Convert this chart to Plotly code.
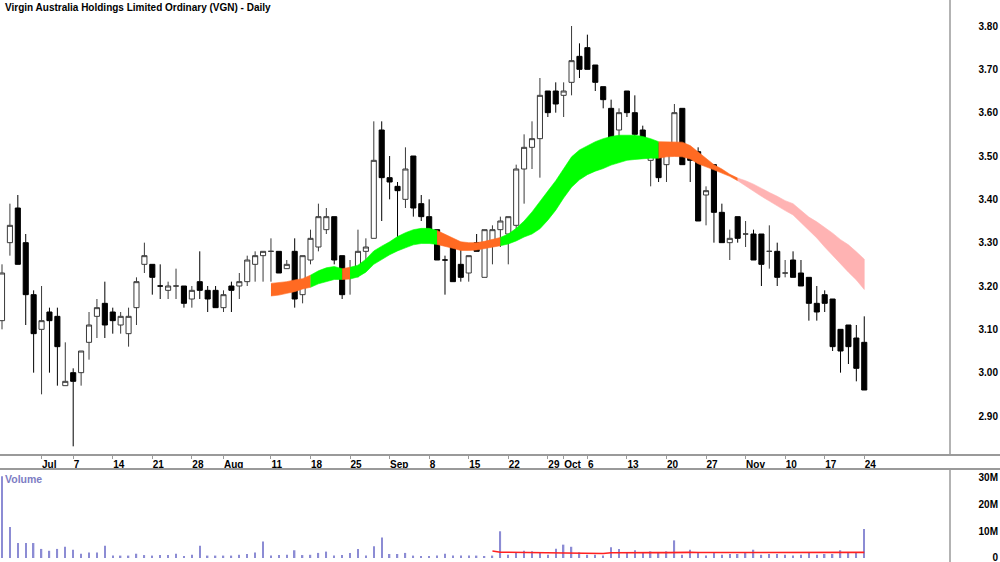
import pandas as pd
import plotly.graph_objects as go

# ---------------- data ----------------
dates = [d.strftime("%Y-%m-%d") for d in pd.bdate_range("2014-06-24", periods=110)]

opens = [3.12, 3.30, 3.38, 3.30, 3.18, 3.10, 3.14, 3.13, 2.97, 3.00,
         3.00, 3.07, 3.13, 3.16, 3.14, 3.11, 3.09, 3.15, 3.25, 3.25,
         3.20, 3.19, 3.20, 3.20, 3.17, 3.21, 3.19, 3.19, 3.15, 3.20,
         3.20, 3.21, 3.25, 3.27, 3.28, 3.28, 3.24, 3.28, 3.18, 3.26,
         3.29, 3.33, 3.36, 3.27, 3.22, 3.24, 3.28, 3.31, 3.56, 3.45,
         3.43, 3.40, 3.50, 3.39, 3.36, 3.33, 3.26, 3.29, 3.25, 3.23,
         3.30, 3.22, 3.30, 3.33, 3.32, 3.34, 3.47, 3.52, 3.54, 3.65,
         3.65, 3.64, 3.67, 3.73, 3.75, 3.71, 3.66, 3.61, 3.56, 3.65,
         3.60, 3.56, 3.49, 3.53, 3.48, 3.51, 3.61, 3.50, 3.51, 3.41,
         3.48, 3.37, 3.30, 3.36, 3.32, 3.32, 3.32, 3.28, 3.28, 3.23,
         3.26, 3.23, 3.22, 3.16, 3.18, 3.17, 3.10, 3.11, 3.08, 3.07]
highs = [3.25, 3.39, 3.41, 3.32, 3.19, 3.20, 3.15, 3.15, 3.07, 3.01,
         3.05, 3.14, 3.17, 3.21, 3.15, 3.14, 3.15, 3.22, 3.30, 3.25,
         3.25, 3.21, 3.24, 3.20, 3.20, 3.28, 3.20, 3.20, 3.19, 3.21,
         3.23, 3.27, 3.28, 3.28, 3.31, 3.28, 3.26, 3.31, 3.27, 3.33,
         3.39, 3.38, 3.36, 3.27, 3.26, 3.33, 3.31, 3.58, 3.58, 3.50,
         3.44, 3.52, 3.50, 3.41, 3.40, 3.33, 3.27, 3.29, 3.30, 3.27,
         3.32, 3.33, 3.34, 3.36, 3.36, 3.48, 3.55, 3.58, 3.68, 3.65,
         3.67, 3.67, 3.80, 3.76, 3.78, 3.71, 3.66, 3.63, 3.61, 3.65,
         3.64, 3.57, 3.51, 3.53, 3.52, 3.62, 3.61, 3.52, 3.52, 3.43,
         3.48, 3.39, 3.33, 3.36, 3.35, 3.33, 3.32, 3.34, 3.30, 3.26,
         3.28, 3.26, 3.22, 3.20, 3.19, 3.17, 3.10, 3.11, 3.11, 3.13]
lows = [3.10, 3.27, 3.25, 3.11, 3.00, 2.95, 3.00, 2.97, 2.97, 2.83,
        2.97, 3.03, 3.08, 3.08, 3.09, 3.09, 3.06, 3.11, 3.23, 3.18,
        3.17, 3.17, 3.17, 3.15, 3.15, 3.17, 3.14, 3.15, 3.14, 3.14,
        3.17, 3.20, 3.21, 3.21, 3.21, 3.23, 3.24, 3.15, 3.16, 3.25,
        3.28, 3.32, 3.25, 3.17, 3.18, 3.22, 3.25, 3.31, 3.35, 3.40,
        3.29, 3.38, 3.36, 3.35, 3.30, 3.26, 3.18, 3.21, 3.21, 3.21,
        3.28, 3.22, 3.25, 3.29, 3.25, 3.31, 3.39, 3.47, 3.45, 3.59,
        3.60, 3.59, 3.64, 3.68, 3.70, 3.65, 3.61, 3.53, 3.51, 3.59,
        3.54, 3.50, 3.43, 3.44, 3.44, 3.51, 3.48, 3.44, 3.35, 3.34,
        3.30, 3.30, 3.26, 3.30, 3.29, 3.26, 3.20, 3.24, 3.20, 3.22,
        3.22, 3.20, 3.12, 3.12, 3.14, 3.05, 3.00, 3.02, 2.98, 2.96]
closes = [3.23, 3.34, 3.25, 3.18, 3.09, 3.12, 3.12, 3.06, 2.98, 2.98,
          3.05, 3.11, 3.15, 3.11, 3.12, 3.13, 3.13, 3.21, 3.27, 3.22,
          3.20, 3.20, 3.20, 3.16, 3.19, 3.19, 3.17, 3.15, 3.18, 3.19,
          3.21, 3.26, 3.27, 3.28, 3.28, 3.23, 3.25, 3.17, 3.27, 3.31,
          3.36, 3.36, 3.26, 3.18, 3.23, 3.28, 3.29, 3.49, 3.45, 3.44,
          3.42, 3.47, 3.38, 3.36, 3.33, 3.26, 3.26, 3.21, 3.22, 3.27,
          3.28, 3.33, 3.33, 3.35, 3.36, 3.47, 3.52, 3.54, 3.64, 3.60,
          3.62, 3.65, 3.72, 3.70, 3.70, 3.67, 3.63, 3.54, 3.60, 3.60,
          3.55, 3.50, 3.51, 3.45, 3.51, 3.60, 3.48, 3.49, 3.35, 3.42,
          3.37, 3.30, 3.31, 3.31, 3.32, 3.26, 3.25, 3.28, 3.22, 3.23,
          3.22, 3.20, 3.16, 3.14, 3.16, 3.06, 3.05, 3.06, 3.01, 2.96]

# volume in millions
volume = [30.6, 11.6, 5.6, 5.6, 5.6, 3.4, 2.7, 3.4, 4.2, 3.1,
          1.6, 2.1, 2.1, 4.6, 0.9, 0.9, 0.9, 1.6, 1.1, 0.9,
          1.1, 1.1, 1.6, 0.6, 1.2, 4.6, 0.9, 0.9, 0.9, 0.9,
          1.2, 1.5, 2.1, 6.2, 0.9, 1.1, 1.2, 2.9, 1.1, 1.2,
          1.9, 2.4, 0.9, 1.1, 1.9, 3.4, 0.9, 4.4, 7.7, 1.5,
          1.5, 1.9, 0.9, 0.6, 0.6, 0.9, 1.6, 0.9, 0.9, 0.9,
          0.9, 0.6, 0.9, 10.0, 1.2, 2.1, 2.7, 2.5, 1.9, 1.2,
          3.5, 5.0, 4.2, 2.1, 1.2, 1.2, 0.9, 4.0, 3.4, 1.9,
          2.9, 1.9, 2.5, 1.9, 2.5, 6.6, 1.2, 3.1, 1.9, 0.9,
          1.9, 1.2, 1.5, 1.5, 2.1, 3.1, 1.2, 1.5, 1.5, 1.2,
          0.9, 1.2, 2.1, 1.2, 1.5, 1.5, 2.9, 1.9, 1.9, 10.9]

# volume average line (millions), drawn from bar 62 onward
vol_avg_start = 62
vol_avg = [2.6, 2.15, 2.15, 2.1, 2.1, 2.1, 1.95, 1.9, 1.85, 1.85,
           1.85, 1.8, 1.75, 1.7, 1.7, 1.95, 2.0, 2.0, 2.0, 2.0,
           2.0, 2.0, 2.0, 2.1, 2.1, 2.1, 2.05, 2.05, 2.05, 2.05,
           2.05, 2.05, 2.05, 2.1, 2.05, 2.05, 2.05, 2.05, 2.0, 2.0,
           2.05, 2.0, 2.0, 2.0, 2.05, 2.05, 2.05, 2.1]

# ribbon edges, from bar 34 onward
band_start = 34
band_upper = [3.206, 3.208, 3.210, 3.214, 3.217, 3.225, 3.235, 3.242, 3.245, 3.240,
              3.243, 3.248, 3.262, 3.281, 3.292, 3.302, 3.314, 3.323, 3.330, 3.333,
              3.333, 3.328, 3.319, 3.310, 3.302, 3.300, 3.300, 3.303, 3.307, 3.312,
              3.320, 3.333, 3.350, 3.371, 3.396, 3.419, 3.443, 3.472, 3.498, 3.514,
              3.523, 3.533, 3.540, 3.545, 3.548, 3.548, 3.548, 3.545, 3.540, 3.533,
              3.533, 3.533, 3.532, 3.524, 3.509, 3.494, 3.480, 3.470, 3.458, 3.449,
              3.443, 3.435, 3.425, 3.416, 3.407, 3.397, 3.390, 3.375, 3.359, 3.348,
              3.336, 3.322, 3.307, 3.295, 3.279, 3.262]
band_lower = [3.177, 3.179, 3.183, 3.187, 3.193, 3.197, 3.205, 3.210, 3.215, 3.215,
              3.216, 3.221, 3.232, 3.250, 3.260, 3.272, 3.281, 3.288, 3.295, 3.298,
              3.298, 3.296, 3.291, 3.287, 3.282, 3.282, 3.283, 3.287, 3.290, 3.293,
              3.297, 3.304, 3.313, 3.320, 3.332, 3.352, 3.375, 3.403, 3.428, 3.445,
              3.457, 3.465, 3.471, 3.479, 3.485, 3.490, 3.492, 3.494, 3.495, 3.495,
              3.498, 3.499, 3.498, 3.493, 3.482, 3.475, 3.468, 3.461, 3.453, 3.443,
              3.431, 3.419, 3.407, 3.396, 3.386, 3.374, 3.364, 3.347, 3.329, 3.311,
              3.290, 3.269, 3.251, 3.232, 3.214, 3.192]
# (first bar, last bar, colour) of each ribbon section
band_sections = [(34, 39, "#ff6a22"), (39, 43, "#00ff00"), (43, 44, "#ff6a22"),
                 (44, 55, "#00ff00"), (55, 63, "#ff6a22"), (63, 83, "#00ff00"),
                 (83, 93, "#ff6a22"), (93, 109, "#ffb3b3")]

tick_dates = ["2014-07-01", "2014-07-07", "2014-07-14", "2014-07-21", "2014-07-28",
              "2014-08-01", "2014-08-11", "2014-08-18", "2014-08-25", "2014-09-01",
              "2014-09-08", "2014-09-15", "2014-09-22", "2014-09-29", "2014-10-01",
              "2014-10-06", "2014-10-13", "2014-10-20", "2014-10-27", "2014-11-03",
              "2014-11-10", "2014-11-17", "2014-11-24"]
tick_labels = ["Jul", "7", "14", "21", "28", "Aug", "11", "18", "25", "Sep", "8", "15",
               "22", "29", "Oct", "6", "13", "20", "27", "Nov", "10", "17", "24"]
price_ticks = [2.90, 3.00, 3.10, 3.20, 3.30, 3.40, 3.50, 3.60, 3.70, 3.80]
vol_ticks = [0, 10, 20, 30]
vol_tick_labels = ["0", "10M", "20M", "30M"]

title = "Virgin Australia Holdings Limited Ordinary (VGN) - Daily"

# ---------------- figure ----------------
FONT = "Liberation Sans, Arial, sans-serif"
GREY = "#9a9a9a"
fig = go.Figure()

for a, b, col in band_sections:
    xs = dates[a:b + 1]
    up = band_upper[a - band_start:b - band_start + 1]
    lo = band_lower[a - band_start:b - band_start + 1]
    fig.add_trace(go.Scatter(
        x=xs + xs[::-1], y=up + lo[::-1], fill="toself", fillcolor=col,
        mode="lines", line=dict(color=col, width=0.6), hoverinfo="skip",
        xaxis="x", yaxis="y"))

fig.add_trace(go.Candlestick(
    x=dates, open=opens, high=highs, low=lows, close=closes,
    increasing=dict(line=dict(color="#3a3a3a", width=1), fillcolor="#ffffff"),
    decreasing=dict(line=dict(color="#000000", width=1), fillcolor="#000000"),
    whiskerwidth=0, xaxis="x", yaxis="y"))

fig.add_trace(go.Bar(
    x=dates, y=volume, width=0.18, marker=dict(color="#8c8cd4", line=dict(width=0)),
    xaxis="x2", yaxis="y2"))

fig.add_trace(go.Scatter(
    x=dates[vol_avg_start:vol_avg_start + len(vol_avg)], y=vol_avg, mode="lines",
    line=dict(color="#ff2020", width=1.6), xaxis="x2", yaxis="y2"))

H = 562.0
price_dom = [1 - 455 / H, 1]
vol_dom = [0, 93 / H]
xr = [-0.253, 119.84]
tickfont = dict(family=FONT, size=10, color="#000000", weight="bold")

fig.update_layout(
    width=1000, height=562, autosize=False,
    margin=dict(l=0, r=0, t=0, b=0, pad=0),
    paper_bgcolor="#ffffff", plot_bgcolor="#ffffff",
    showlegend=False, hovermode=False, boxgap=0.08,
    xaxis=dict(domain=[0, 0.95], anchor="y", type="category", range=xr,
               categoryorder="array", categoryarray=dates,
               tickmode="array", tickvals=tick_dates, ticktext=tick_labels,
               ticks="outside", ticklen=3, tickcolor=GREY, tickwidth=1,
               tickangle=0, ticklabelposition="outside right", tickfont=tickfont,
               showgrid=False, zeroline=False, showline=False,
               rangeslider=dict(visible=False), fixedrange=True),
    yaxis=dict(domain=price_dom, anchor="free", position=1.0, side="left",
               range=[2.81, 3.86], tickmode="array", tickvals=price_ticks,
               ticktext=["%.2f" % v for v in price_ticks], ticks="",
               tickfont=tickfont, showline=False, showgrid=False, zeroline=False,
               ticklabelstandoff=2, ticklabeloverflow="allow"),
    xaxis2=dict(domain=[0, 0.95], anchor="y2", type="category", range=xr,
                categoryorder="array", categoryarray=dates,
                showticklabels=False, ticks="", showgrid=False, zeroline=False,
                showline=False),
    yaxis2=dict(domain=vol_dom, anchor="free", position=1.0, side="left",
                range=[-1.5, 33.33], tickmode="array", tickvals=vol_ticks,
                ticktext=vol_tick_labels, ticks="", tickfont=tickfont,
                showline=False, showgrid=False, zeroline=False,
                ticklabelstandoff=2, ticklabeloverflow="allow"),
)

# panel separators and the right-hand axis lines
for yy in (price_dom[0], vol_dom[1]):
    fig.add_shape(type="line", xref="paper", yref="paper", x0=0, x1=1, y0=yy, y1=yy,
                  line=dict(color=GREY, width=2))
for y0, y1 in (price_dom, vol_dom):
    fig.add_shape(type="line", xref="paper", yref="paper", x0=0.95, x1=0.95,
                  y0=y0, y1=y1, line=dict(color=GREY, width=1.5))

fig.add_annotation(text="<b>" + title + "</b>", xref="paper", yref="paper",
                   x=0.003, y=1.0, xanchor="left", yanchor="top", showarrow=False,
                   font=dict(family=FONT, size=10, color="#000000"))
fig.add_annotation(text="<b>Volume</b>", xref="paper", yref="paper",
                   x=0.003, y=vol_dom[1] - 0.003, xanchor="left", yanchor="top",
                   showarrow=False, font=dict(family=FONT, size=10.5, color="#7d7dc4"))

fig.write_html("out.html")
